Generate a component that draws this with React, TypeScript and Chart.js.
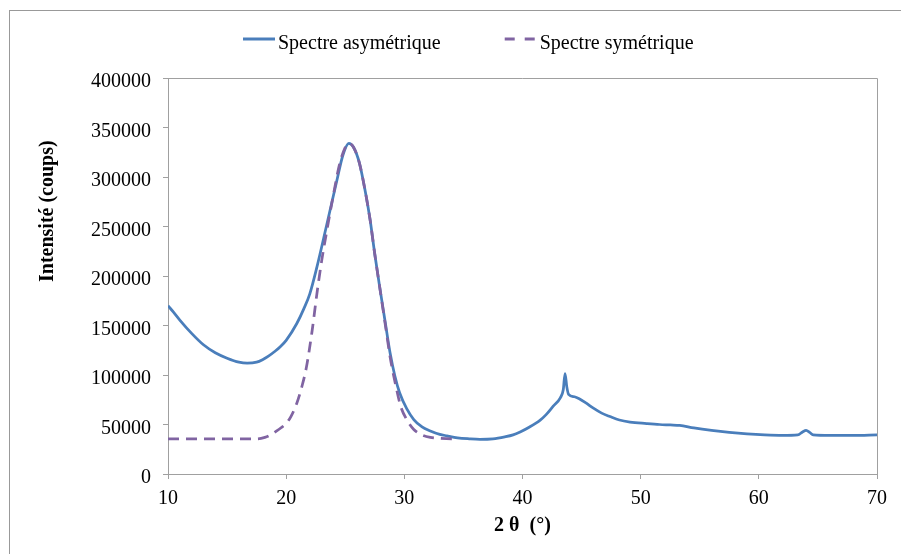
import React, { useEffect, useRef } from "react";
import { Chart, registerables } from "chart.js";

Chart.register(...registerables);

// ---- data ----
const seriesNames = ["Spectre asymétrique", "Spectre symétrique"];
const xTitle = "2 θ  (°)";
const yTitle = "Intensité (coups)";

const asymX = [
  10.0, 10.5, 11.0, 12.0, 13.0, 14.0, 15.0, 16.0, 16.7, 17.5, 18.0, 18.5, 19.0, 19.5, 20.0,
  20.9, 21.5, 22.0, 22.6, 23.4, 24.3, 24.8, 25.3, 25.7, 26.2, 26.7, 27.1, 27.5, 27.9,
  28.4, 28.8, 29.2, 29.6, 30.2, 30.8, 31.5, 32.2, 33.0, 33.6, 34.5, 35.5, 36.4, 37.5,
  38.5, 39.2, 39.8, 40.6, 41.5, 42.0, 42.6, 43.2, 43.45, 43.6, 43.75, 43.9, 44.4, 44.8,
  45.4, 46.0, 46.7, 47.4, 48.2, 49.1, 50.5, 51.6, 52.5, 53.3, 54.5, 56.0, 57.5, 59.0,
  60.5, 62.0, 63.3, 63.7, 64.0, 64.3, 64.6, 66.0, 68.0, 70.0,
];
const asymY = [
  170000, 163000, 155500, 142000, 130500, 122500, 117000, 113000, 112000, 113000, 115500, 119000, 123500, 128500, 135000,
  152000, 167000, 182000, 209000, 250000, 297000, 322000, 334000, 330000, 314000, 285000, 257000, 222000, 190000,
  152000, 122000, 99000, 82000, 66000, 55000, 47500, 43500, 40000, 38500, 36500, 35500, 35000, 35500,
  37500, 39500, 42500, 47500, 54500, 60000, 68500, 77000, 85000, 101500, 88000, 80500, 78000, 76000,
  71500, 66500, 61500, 58000, 54500, 52500, 51000, 50000, 49500, 49000, 46500, 44000, 42000, 40500,
  39500, 39000, 39500, 42500, 44000, 42000, 39500, 39000, 39000, 39500,
];

const symX = [
  10.0, 12.0, 14.0, 16.0, 17.5, 18.2, 18.6, 19.2, 19.6, 20.0, 20.4, 20.9, 21.3, 21.7,
  22.2, 22.6, 23.0, 23.4, 24.0, 24.5, 25.0, 25.3, 25.7, 26.2, 26.7, 27.1, 27.5, 27.9,
  28.4, 28.8, 29.3, 29.7, 30.2, 30.8, 31.4, 32.2, 33.0, 34.0, 34.5,
];
const symY = [
  35500, 35500, 35500, 35500, 35500, 37000, 39000, 43500, 47000, 51000, 58000, 71500, 87000, 107000,
  145000, 182000, 215000, 243000, 282000, 312000, 330000, 334000, 330000, 314000, 285000, 257000, 222000, 190000,
  150000, 118000, 88000, 68000, 55000, 45000, 40000, 37000, 36000, 35500, 35500,
];

const xMin = 10;
const xMax = 70;
const xStep = 10;
const yMin = 0;
const yMax = 400000;
const yStep = 50000;

// ---- styles ----
const SERIF = '"Liberation Serif", "Times New Roman", serif';
const BLUE = "#4A7EBB";
const PURPLE = "#8064A2";
const AXIS = "#a0a0a0";

const legendDash = [[], [10, 10]];

const overlayPlugin = {
  id: "overlay",
  afterDatasetsDraw(chart: any) {
    const { ctx, chartArea: a } = chart;
    ctx.save();
    ctx.strokeStyle = AXIS;
    ctx.lineWidth = 1;
    ctx.beginPath();
    ctx.moveTo(a.left, Math.round(a.top) + 0.5);
    ctx.lineTo(Math.round(a.right) + 0.5, Math.round(a.top) + 0.5);
    ctx.lineTo(Math.round(a.right) + 0.5, a.bottom);
    ctx.stroke();
    ctx.restore();
  },
  afterDraw(chart: any) {
    const { ctx, chartArea: a } = chart;
    ctx.save();
    // legend
    ctx.font = `20px ${SERIF}`;
    ctx.textBaseline = "alphabetic";
    ctx.textAlign = "left";
    let x = 243;
    const lineY = 39;
    const textY = 49;
    chart.data.datasets.forEach((ds: any, i: number) => {
      ctx.save();
      ctx.strokeStyle = ds.borderColor;
      ctx.lineWidth = 3;
      ctx.setLineDash(legendDash[i]);
      ctx.beginPath();
      ctx.moveTo(x, lineY);
      ctx.lineTo(x + 32, lineY);
      ctx.stroke();
      ctx.restore();
      ctx.fillStyle = "#000";
      ctx.fillText(ds.label, x + 35, textY);
      x += 35 + ctx.measureText(ds.label).width + 64;
    });
    // y axis title
    ctx.font = `bold 20px ${SERIF}`;
    ctx.translate(a.left - 120, 282);
    ctx.rotate(-Math.PI / 2);
    ctx.textAlign = "left";
    ctx.textBaseline = "middle";
    ctx.fillStyle = "#000";
    ctx.fillText(yTitle, 0, 0);
    ctx.restore();
  },
};

export default function App() {
  const ref = useRef<HTMLCanvasElement | null>(null);

  useEffect(() => {
    if (!ref.current) return;
    const chart = new Chart(ref.current, {
      type: "line",
      data: {
        datasets: [
          {
            label: seriesNames[0],
            data: asymX.map((x, i) => ({ x, y: asymY[i] })),
            borderColor: BLUE,
            backgroundColor: BLUE,
            borderWidth: 2.75,
            pointRadius: 0,
            cubicInterpolationMode: "monotone",
            fill: false,
            order: 1,
          },
          {
            label: seriesNames[1],
            data: symX.map((x, i) => ({ x, y: symY[i] })),
            borderColor: PURPLE,
            backgroundColor: PURPLE,
            borderWidth: 2.75,
            borderDash: [11, 7],
            pointRadius: 0,
            cubicInterpolationMode: "monotone",
            fill: false,
            order: 0,
          },
        ],
      },
      options: {
        animation: false,
        responsive: false,
        devicePixelRatio: 1,
        layout: { padding: { top: 78, right: 24, bottom: 0, left: 0 } },
        plugins: {
          legend: { display: false },
          tooltip: { enabled: false },
        },
        scales: {
          x: {
            type: "linear",
            min: xMin,
            max: xMax,
            ticks: {
              stepSize: xStep,
              color: "#000",
              font: { family: SERIF, size: 20 },
              padding: 8,
              maxRotation: 0,
            },
            grid: { display: true, drawOnChartArea: false, drawTicks: true, tickLength: 5, color: AXIS },
            border: { display: true, color: AXIS, width: 1 },
            title: {
              display: true,
              text: xTitle,
              color: "#000",
              font: { family: SERIF, size: 20, weight: "bold" },
              padding: { top: 0, bottom: 16 },
            },
            afterFit: (s: any) => {
              s.height = 80;
            },
          },
          y: {
            type: "linear",
            min: yMin,
            max: yMax,
            ticks: {
              stepSize: yStep,
              color: "#000",
              font: { family: SERIF, size: 20 },
              padding: 12,
              labelOffset: 4,
              callback: (v: any) => String(v),
            },
            grid: { display: true, drawOnChartArea: false, drawTicks: true, tickLength: 5, color: AXIS },
            border: { display: true, color: AXIS, width: 1 },
            afterFit: (s: any) => {
              s.width = 168;
            },
          },
        },
      },
      plugins: [overlayPlugin],
    } as any);
    return () => chart.destroy();
  }, []);

  return (
    <div style={{ position: "fixed", left: 0, top: 0, width: 901, height: 554, overflow: "hidden", background: "#fff" }}>
      <div
        style={{
          position: "absolute",
          left: 9,
          top: 10,
          width: 1000,
          height: 1000,
          border: "1px solid #999",
          boxSizing: "border-box",
        }}
      />
      <canvas ref={ref} width={901} height={554} style={{ position: "absolute", left: 0, top: 0 }} />
    </div>
  );
}
